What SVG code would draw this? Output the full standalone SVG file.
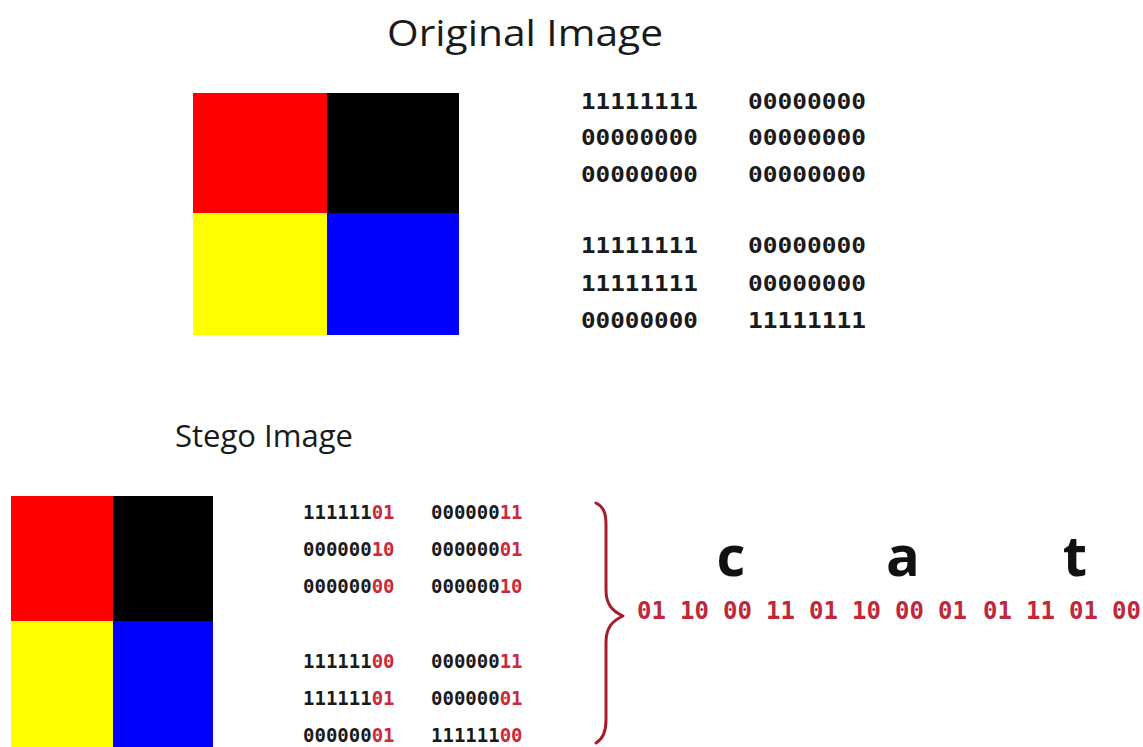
<svg xmlns="http://www.w3.org/2000/svg" width="1143" height="747" viewBox="0 0 1143 747">
<style>
.title{font-family:"Open Sans","DejaVu Sans",sans-serif;font-size:37px;fill:#1a1a1a}
.bin{font-family:"DejaVu Sans Mono","Liberation Mono",monospace;font-weight:bold;font-size:21px;fill:#1a1a1a}
.sbin{font-family:"DejaVu Sans Mono","Liberation Mono",monospace;font-weight:bold;font-size:19px;fill:#1a1a1a}
.r{fill:#cc2a3a}
.letter{font-family:"Open Sans","DejaVu Sans",sans-serif;font-weight:bold;font-size:56px;fill:#111;text-anchor:middle}
.code{font-family:"DejaVu Sans Mono","Liberation Mono",monospace;font-weight:bold;font-size:24px;fill:#c0283a}
</style>
<rect width="1143" height="747" fill="#fff"/>
<g id="original-title"><text class="title" x="387" y="46" textLength="276" lengthAdjust="spacingAndGlyphs">Original Image</text></g>
<g id="original-image">
<rect x="193" y="93" width="134" height="120" fill="#ff0000"/>
<rect x="327" y="93" width="132" height="120" fill="#000000"/>
<rect x="193" y="213" width="134" height="122" fill="#ffff00"/>
<rect x="327" y="213" width="132" height="122" fill="#0000ff"/>
</g>
<g id="original-bits">
<text class="bin" x="581" y="109" textLength="117" lengthAdjust="spacingAndGlyphs">11111111</text>
<text class="bin" x="748" y="109" textLength="118" lengthAdjust="spacingAndGlyphs">00000000</text>
<text class="bin" x="581" y="145" textLength="117" lengthAdjust="spacingAndGlyphs">00000000</text>
<text class="bin" x="748" y="145" textLength="118" lengthAdjust="spacingAndGlyphs">00000000</text>
<text class="bin" x="581" y="182" textLength="117" lengthAdjust="spacingAndGlyphs">00000000</text>
<text class="bin" x="748" y="182" textLength="118" lengthAdjust="spacingAndGlyphs">00000000</text>
<text class="bin" x="581" y="253" textLength="117" lengthAdjust="spacingAndGlyphs">11111111</text>
<text class="bin" x="748" y="253" textLength="118" lengthAdjust="spacingAndGlyphs">00000000</text>
<text class="bin" x="581" y="291" textLength="117" lengthAdjust="spacingAndGlyphs">11111111</text>
<text class="bin" x="748" y="291" textLength="118" lengthAdjust="spacingAndGlyphs">00000000</text>
<text class="bin" x="581" y="328" textLength="117" lengthAdjust="spacingAndGlyphs">00000000</text>
<text class="bin" x="748" y="328" textLength="118" lengthAdjust="spacingAndGlyphs">11111111</text>
</g>
<g id="stego-title"><text class="title" x="175" y="447" style="font-size:31px" textLength="178" lengthAdjust="spacingAndGlyphs">Stego Image</text></g>
<g id="stego-image">
<rect x="11" y="496" width="102" height="125" fill="#ff0000"/>
<rect x="113" y="496" width="100" height="125" fill="#000000"/>
<rect x="11" y="621" width="102" height="126" fill="#ffff00"/>
<rect x="113" y="621" width="100" height="126" fill="#0000ff"/>
</g>
<g id="stego-bits">
<text class="sbin" x="303" y="519">111111<tspan class="r">01</tspan></text>
<text class="sbin" x="431" y="519">000000<tspan class="r">11</tspan></text>
<text class="sbin" x="303" y="556">000000<tspan class="r">10</tspan></text>
<text class="sbin" x="431" y="556">000000<tspan class="r">01</tspan></text>
<text class="sbin" x="303" y="593">000000<tspan class="r">00</tspan></text>
<text class="sbin" x="431" y="593">000000<tspan class="r">10</tspan></text>
<text class="sbin" x="303" y="668">111111<tspan class="r">00</tspan></text>
<text class="sbin" x="431" y="668">000000<tspan class="r">11</tspan></text>
<text class="sbin" x="303" y="705">111111<tspan class="r">01</tspan></text>
<text class="sbin" x="431" y="705">000000<tspan class="r">01</tspan></text>
<text class="sbin" x="303" y="742">000000<tspan class="r">01</tspan></text>
<text class="sbin" x="431" y="742">111111<tspan class="r">00</tspan></text>
</g>
<g id="connectors">
<path d="M596,503 C604,507 606,514 606,525 L606,590 C606,604 612,611 623,616 C612,621 606,628 606,642 L606,720 C606,732 603,739 596,743" fill="none" stroke="#a51c2c" stroke-width="3" stroke-linecap="round" stroke-linejoin="round"/>
</g>
<g id="cat">
<text class="letter" x="731" y="576">c</text>
<text class="letter" x="903" y="576">a</text>
<text class="letter" x="1075" y="576">t</text>
<text class="code" y="619"><tspan x="637">01</tspan> <tspan x="680">10</tspan> <tspan x="723">00</tspan> <tspan x="766">11</tspan></text>
<text class="code" y="619"><tspan x="809">01</tspan> <tspan x="852">10</tspan> <tspan x="895">00</tspan> <tspan x="938">01</tspan></text>
<text class="code" y="619"><tspan x="983">01</tspan> <tspan x="1026">11</tspan> <tspan x="1069">01</tspan> <tspan x="1112">00</tspan></text>
</g>
</svg>
